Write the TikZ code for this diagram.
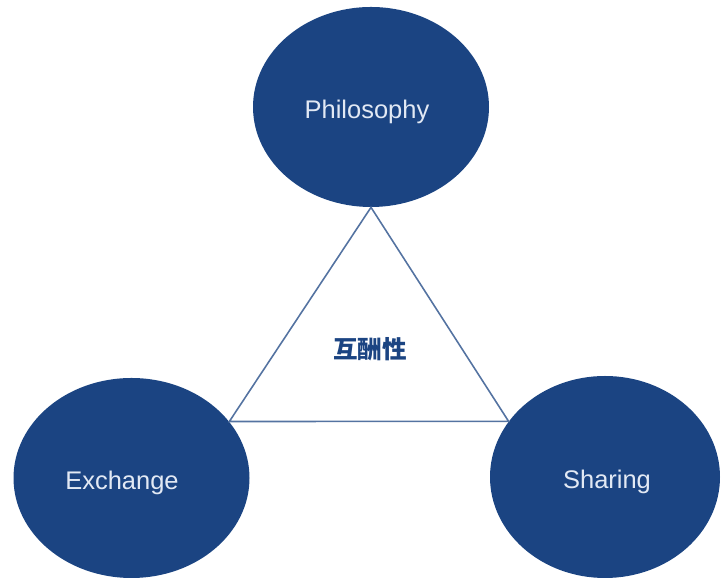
\documentclass[tikz,border=0pt]{standalone}
\usepackage{fontspec}
\setmainfont{Liberation Sans}
\newfontfamily\cjk{Noto Sans CJK JP}
\definecolor{navy}{RGB}{27,68,130}
\definecolor{pale}{RGB}{226,233,244}
\tikzset{
  idea/.style={ellipse, fill=navy, draw=none, inner sep=0pt,
    minimum width=4.72cm, minimum height=4cm},
  caption/.style={text=pale, inner sep=0pt, font=\fontsize{14.5}{16}\selectfont},
  link/.style={draw=navy!75, line width=0.9pt}
}
\usetikzlibrary{shapes.geometric}
\begin{document}
\begin{tikzpicture}[scale=1]
\useasboundingbox (0,0) rectangle (14.42,11.58);
\coordinate (P) at (7.42,9.44);
\coordinate (E) at (2.63,2.02);
\coordinate (S) at (12.1,2.04);
\coordinate (M) at (7.40,4.60);

\node[idea] (phil) at (P) {};
\node[idea] (exch) at (E) {};
\node[idea, minimum width=4.6cm, minimum height=4.04cm] (shar) at (S) {};

\node[caption] (phil-t) at ([xshift=-0.08cm, yshift=-0.09cm]phil) {Philosophy};
\node[caption] (exch-t) at ([xshift=-0.19cm, yshift=-0.09cm]exch) {Exchange};
\node[caption] (shar-t) at ([xshift=0.04cm, yshift=-0.09cm]shar) {Sharing};

\draw[link] (phil.south) -- (exch.30) -- (shar.150) -- cycle;
% \node[above] at (phil.south) {top};
\node[text=navy, font=\cjk\bfseries\fontsize{14}{16}\selectfont] (recip) at (M) {互酬性};
\end{tikzpicture}
\end{document}
